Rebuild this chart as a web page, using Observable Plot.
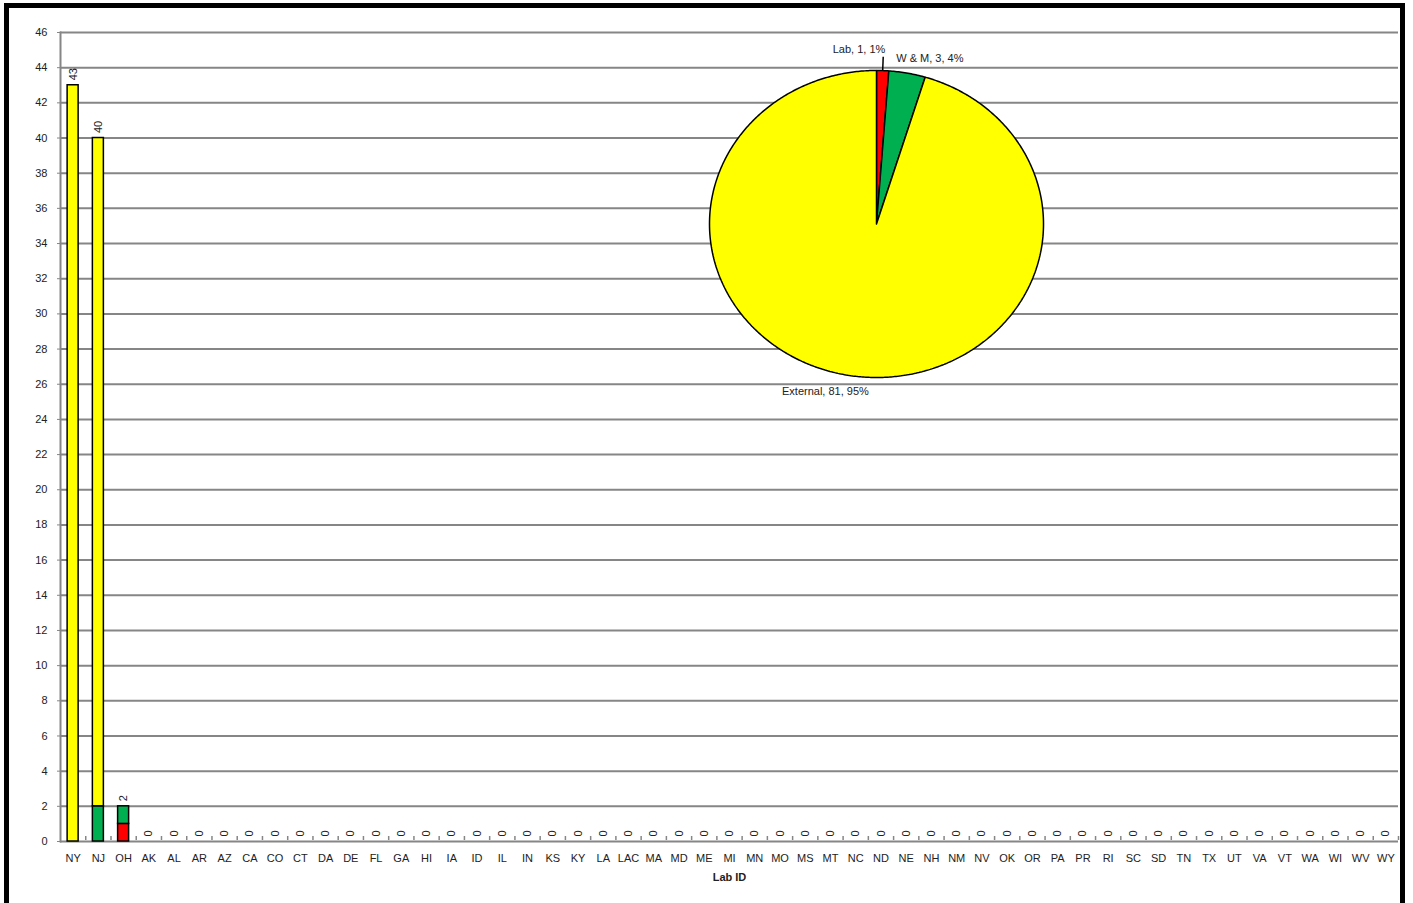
<!DOCTYPE html>
<html>
<head>
<meta charset="utf-8">
<script src="https://cdn.jsdelivr.net/npm/d3@7"></script>
<script src="https://cdn.jsdelivr.net/npm/@observablehq/plot@0.6"></script>
<style>
  html, body { margin: 0; padding: 0; background: #fff; }
  #wrap { position: relative; width: 1413px; height: 903px; overflow: hidden; font-family: "Liberation Sans", Arial, sans-serif; }
  #wrap svg { position: absolute; left: 0; top: 0; }
  #border { position: absolute; left: 4px; top: 3px; width: 1391px; height: 920px; border: 5px solid #000; pointer-events: none; }
</style>
</head>
<body>
<div id="wrap"><div id="border"></div></div>
<script>
// ---- Data ----
const labs = ["NY","NJ","OH","AK","AL","AR","AZ","CA","CO","CT","DA","DE","FL","GA","HI","IA","ID","IL","IN","KS","KY","LA","LAC","MA","MD","ME","MI","MN","MO","MS","MT","NC","ND","NE","NH","NM","NV","OK","OR","PA","PR","RI","SC","SD","TN","TX","UT","VA","VT","WA","WI","WV","WY"];
const labVals = [0,0,1,0,0,0,0,0,0,0,0,0,0,0,0,0,0,0,0,0,0,0,0,0,0,0,0,0,0,0,0,0,0,0,0,0,0,0,0,0,0,0,0,0,0,0,0,0,0,0,0,0,0];
const wmVals  = [0,2,1,0,0,0,0,0,0,0,0,0,0,0,0,0,0,0,0,0,0,0,0,0,0,0,0,0,0,0,0,0,0,0,0,0,0,0,0,0,0,0,0,0,0,0,0,0,0,0,0,0,0];
const extVals = [43,38,0,0,0,0,0,0,0,0,0,0,0,0,0,0,0,0,0,0,0,0,0,0,0,0,0,0,0,0,0,0,0,0,0,0,0,0,0,0,0,0,0,0,0,0,0,0,0,0,0,0,0];
const seriesNames = ["Lab", "W & M", "External"];
const seriesColors = ["#FF0000", "#00B050", "#FFFF00"];
const yTicks = [0,2,4,6,8,10,12,14,16,18,20,22,24,26,28,30,32,34,36,38,40,42,44,46];
const pieNames = ["Lab", "W & M", "External"];
const pieValues = [1, 3, 81];

// ---- Bar chart ----
const W = 1413, H = 903;
const mL = 60, mR = 15, mT = 32, mB = 62;
const step = (W - mL - mR) / labs.length;
const inset = (step - 11) / 2;
const seriesVals = [labVals, wmVals, extVals];
const rows = [];
seriesVals.forEach((vals, si) => labs.forEach((lab, i) => rows.push({lab, series: seriesNames[si], value: vals[i]})));
const totals = labs.map((lab, i) => ({lab, total: labVals[i] + wmVals[i] + extVals[i]}));

const font = "Liberation Sans, Arial, sans-serif";
const bars = Plot.plot({
  width: W, height: H,
  marginLeft: mL, marginRight: mR, marginTop: mT, marginBottom: mB,
  style: {fontFamily: font, fontSize: "11px", color: "#222", background: "transparent"},
  x: {domain: labs, padding: 0, round: false},
  y: {domain: [0, 46]},
  color: {domain: seriesNames, range: seriesColors},
  marks: [
    Plot.ruleY(yTicks.filter(d => d > 0), {stroke: "#868686", strokeWidth: 2}),
    Plot.axisY({ticks: yTicks, tickSize: 3, tickPadding: 10, label: null, stroke: "#868686", fontSize: 11}),
    Plot.frame({anchor: "left", stroke: "#868686", strokeWidth: 2}),
    Plot.ruleY([0], {stroke: "#868686", strokeWidth: 2}),
    Plot.axisX({tickSize: 4, dx: step / 2, dy: -5, text: null, label: null, stroke: "#868686", strokeWidth: 1.5}),
    Plot.axisX({tickSize: 0, tickPadding: 13, label: null, fontSize: 11}),
    Plot.barY(rows, {x: "lab", y: "value", fill: "series", stroke: "#000", strokeWidth: 1.5, insetLeft: inset, insetRight: inset}),
    Plot.text(totals, {x: "lab", y: "total", text: d => String(d.total), rotate: -90, textAnchor: "start", dy: -5, fontSize: 11, fill: "#222"}),
    Plot.text(["Lab ID"], {frameAnchor: "bottom", dy: 39, fontWeight: "bold", fontSize: 11, fill: "#222"})
  ]
});
document.getElementById("wrap").insertBefore(bars, document.getElementById("border"));

// ---- Pie chart ----
const pieTotal = d3.sum(pieValues);
const arcs = d3.pie().sort(null)(pieValues);
const slicePts = [];
arcs.forEach((a, i) => {
  slicePts.push({slice: pieNames[i], x: 0, y: 0});
  const n = Math.max(2, Math.ceil((a.endAngle - a.startAngle) / 0.01));
  for (let k = 0; k <= n; k++) {
    const t = a.startAngle + (a.endAngle - a.startAngle) * k / n;
    slicePts.push({slice: pieNames[i], x: Math.sin(t), y: Math.cos(t)});
  }
  slicePts.push({slice: pieNames[i], x: 0, y: 0});
});
const pieLabels = arcs.map((a, i) => {
  const m = (a.startAngle + a.endAngle) / 2;
  return {
    name: pieNames[i], m,
    x: Math.sin(m) * 1.1, y: Math.cos(m) * 1.1,
    text: `${pieNames[i]}, ${pieValues[i]}, ${Math.round(pieValues[i] / pieTotal * 100)}%`
  };
});
const leader = [{x1: Math.sin(pieLabels[0].m), y1: Math.cos(pieLabels[0].m), x2: Math.sin(pieLabels[0].m) * 1.09, y2: Math.cos(pieLabels[0].m) * 1.09}];

const pie = Plot.plot({
  width: W, height: H,
  margin: 0,
  style: {fontFamily: font, fontSize: "11px", color: "#222", background: "transparent"},
  x: {domain: [-1, 1], range: [709, 1043], axis: null},
  y: {domain: [-1, 1], range: [377, 70], axis: null},
  color: {domain: pieNames, range: seriesColors},
  marks: [
    Plot.line(slicePts, {x: "x", y: "y", z: "slice", fill: "slice", stroke: "#000", strokeWidth: 1.5, strokeLinejoin: "miter"}),
    Plot.link(leader, {x1: "x1", y1: "y1", x2: "x2", y2: "y2", stroke: "#000", strokeWidth: 1.5}),
    Plot.text(pieLabels.filter(d => d.name === "Lab"), {x: "x", y: "y", text: "text", textAnchor: "end", dx: 2, dy: -6, fontSize: 11, fill: "#222"}),
    Plot.text(pieLabels.filter(d => d.name === "W & M"), {x: "x", y: "y", text: "text", textAnchor: "start", dx: -14, dy: 0, fontSize: 11, fill: "#222"}),
    Plot.text(pieLabels.filter(d => d.name === "External"), {x: "x", y: "y", text: "text", textAnchor: "middle", dx: -24, dy: 0, fontSize: 11, fill: "#222"})
  ]
});
document.getElementById("wrap").insertBefore(pie, document.getElementById("border"));
</script>
</body>
</html>
